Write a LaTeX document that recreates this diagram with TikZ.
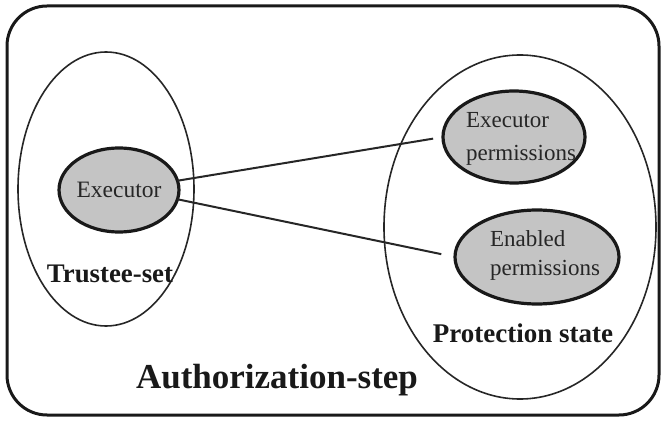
\documentclass[tikz,border=0pt]{standalone}
\usepackage{fontspec}
\setmainfont{Liberation Serif}
\usetikzlibrary{shapes.geometric}
\begin{document}
\begin{tikzpicture}[x=1pt,y=-1pt,
  frame/.style={draw=black!90, line width=3pt, rounded corners=40pt},
  setell/.style={ellipse, draw=black!85, line width=1.6pt, inner sep=0pt, outer sep=0pt},
  elem/.style={ellipse, draw=black!90, line width=3.2pt, fill=gray!46, inner sep=0pt, outer sep=0pt},
  conn/.style={draw=black!85, line width=2pt},
  lbl/.style={font=\fontsize{27}{30}\selectfont\bfseries, text=black!90, inner sep=0pt},
  etxt/.style={text=black!85, inner sep=0pt, align=left}]
\useasboundingbox (0,0) rectangle (662,425);
\draw[frame] (7,6) rectangle (659,415);
\node[setell, minimum width=176pt, minimum height=274pt] (ts) at (106,189) {};
\node[setell, minimum width=272pt, minimum height=344pt] (ps) at (520,227) {};
\node[elem, minimum width=104pt, minimum height=84pt, font=\fontsize{23.5}{28}\selectfont, text=black!85] (ex) at (119,190) {Executor};
\node[elem, minimum width=142pt, minimum height=92pt] (ep) at (514,137) {};
\node[elem, minimum width=164pt, minimum height=94pt] (ee) at (537,257) {};
\node[etxt, font=\fontsize{23}{33}\selectfont] (eptxt) at (521,138.5) {Executor\\permissions};
\node[etxt, font=\fontsize{23}{29}\selectfont] (eetxt) at (545,255) {Enabled\\permissions};
\node[lbl, font=\fontsize{26.8}{30}\selectfont\bfseries, anchor=base] (tsl) at (110,282) {Trustee-set};
\node[lbl, anchor=base] (psl) at (523,342) {Protection state};
\node[lbl, font=\fontsize{35}{40}\selectfont\bfseries, anchor=base] (asl) at (277,388) {Authorization-step};
\draw[conn, shorten >=10pt] (ex.9) -- (ep.west);
\draw[conn, shorten >=14pt] (ex.-9) -- (ee.west);
\end{tikzpicture}
\end{document}
